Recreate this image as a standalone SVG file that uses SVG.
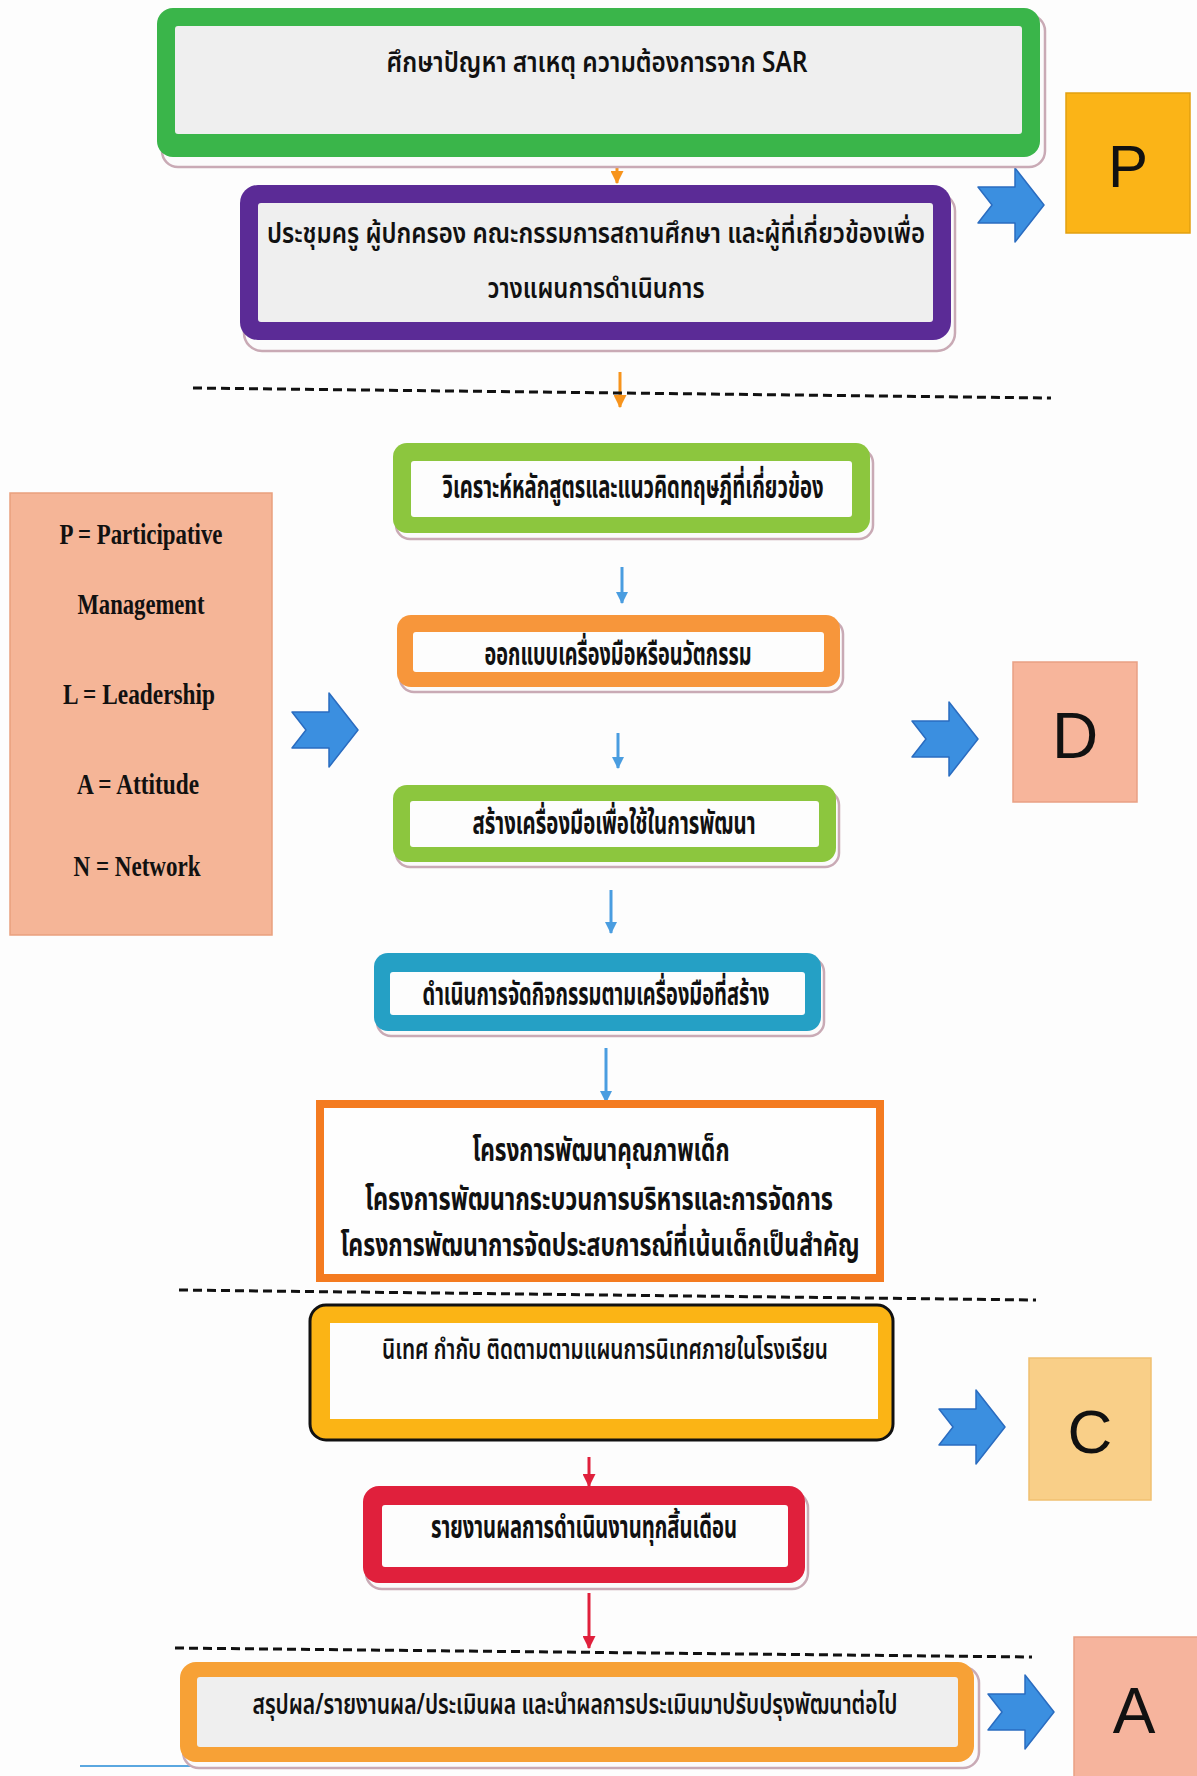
<svg xmlns="http://www.w3.org/2000/svg" width="1197" height="1776" viewBox="0 0 1197 1776">
<defs>
<style>
.th{font-family:"Noto Sans Thai","Leelawadee UI","Tahoma","Noto Sans","Liberation Sans",sans-serif;fill:#111;text-anchor:middle;font-size:28px;font-weight:600}
.thb{font-family:"Noto Sans Thai","Leelawadee UI","Tahoma","Noto Sans","Liberation Sans",sans-serif;fill:#111;text-anchor:middle;font-size:31px;font-weight:bold}
.tm{font-family:"Liberation Serif","Times New Roman",serif;font-weight:bold;font-size:30px;fill:#111;text-anchor:middle}
.big{font-family:"Liberation Sans",Arial,sans-serif;fill:#111;text-anchor:middle}
.shadow{fill:#fbfbfb;stroke:#c9aab5;stroke-width:2.5}
.inner{fill:#efefef}
.innerw{fill:#fdfdfd}
.chev{fill:#3b8fe0;stroke:#2a6cc0;stroke-width:1.5;stroke-linejoin:round}
.dash{stroke:#111;stroke-width:3;stroke-dasharray:9 5;fill:none}
.ab{stroke:#4a9de0;stroke-width:3;fill:none}
.ao{stroke:#f7941d;stroke-width:3;fill:none}
.ar{stroke:#e0203c;stroke-width:3;fill:none}
</style>
<path id="chevron" d="M0,19 L37,19 L37,0 L66,37 L37,74 L37,55 L0,55 L14,37 Z"/>
<marker id="hb" viewBox="0 0 12 12" refX="11" refY="6" markerWidth="12" markerHeight="12" markerUnits="userSpaceOnUse" orient="auto"><path d="M0,0 L12,6 L0,12 z" fill="#4a9de0"/></marker>
<marker id="ho" viewBox="0 0 12 12" refX="11" refY="6" markerWidth="13" markerHeight="13" markerUnits="userSpaceOnUse" orient="auto"><path d="M0,0 L12,6 L0,12 z" fill="#f7941d"/></marker>
<marker id="hr" viewBox="0 0 12 12" refX="11" refY="6" markerWidth="13" markerHeight="13" markerUnits="userSpaceOnUse" orient="auto"><path d="M0,0 L12,6 L0,12 z" fill="#e0203c"/></marker>
</defs>
<rect x="0" y="0" width="1197" height="1776" fill="#fdfdfd"/>

<g id="connectors">
<line class="ao" x1="617" y1="158" x2="617" y2="183" marker-end="url(#ho)"/>
<line class="ao" x1="620" y1="372" x2="620" y2="407" marker-end="url(#ho)"/>
<line class="ab" x1="622" y1="567" x2="622" y2="603" marker-end="url(#hb)"/>
<line class="ab" x1="618" y1="733" x2="618" y2="768" marker-end="url(#hb)"/>
<line class="ab" x1="611" y1="890" x2="611" y2="933" marker-end="url(#hb)"/>
<line class="ab" x1="606" y1="1048" x2="606" y2="1102" marker-end="url(#hb)"/>
<line class="ar" x1="589" y1="1457" x2="589" y2="1486" marker-end="url(#hr)"/>
<line class="ar" x1="589" y1="1593" x2="589" y2="1648" marker-end="url(#hr)"/>
<use href="#chevron" class="chev" x="978" y="168"/>
<use href="#chevron" class="chev" x="292" y="693"/>
<use href="#chevron" class="chev" x="912" y="702"/>
<use href="#chevron" class="chev" x="939" y="1390"/>
<use href="#chevron" class="chev" x="988" y="1675"/>
</g>

<g id="dividers">
<line class="dash" x1="193" y1="388" x2="1051" y2="398"/>
<line class="dash" x1="179" y1="1290" x2="1036" y2="1300"/>
<line class="dash" x1="175" y1="1648" x2="1032" y2="1657"/>
<line x1="80" y1="1766" x2="340" y2="1766" stroke="#5aa7e0" stroke-width="2"/>
</g>

<g id="n1">
<rect class="shadow" x="162" y="15" width="883" height="152" rx="16"/>
<rect x="157" y="8" width="883" height="149" rx="16" fill="#3ab54a"/>
<rect class="inner" x="175" y="26" width="847" height="108" rx="3"/>
<text class="th" x="597" y="72" textLength="421" lengthAdjust="spacingAndGlyphs">ศึกษาปัญหา สาเหตุ ความต้องการจาก SAR</text>
</g>

<g id="n2">
<rect class="shadow" x="244" y="193" width="711" height="158" rx="18"/>
<rect x="240" y="185" width="711" height="155" rx="18" fill="#5b2b96"/>
<rect class="inner" x="258" y="203" width="675" height="119" rx="3"/>
<text class="th" x="596" y="243" textLength="658" lengthAdjust="spacingAndGlyphs">ประชุมครู  ผู้ปกครอง คณะกรรมการสถานศึกษา และผู้ที่เกี่ยวข้องเพื่อ</text>
<text class="th" x="596" y="298" textLength="217" lengthAdjust="spacingAndGlyphs">วางแผนการดำเนินการ</text>
</g>

<g id="n3">
<rect class="shadow" x="396" y="449" width="477" height="90" rx="14"/>
<rect x="393" y="443" width="477" height="90" rx="14" fill="#8cc63e"/>
<rect class="innerw" x="411" y="461" width="441" height="56" rx="3"/>
<text class="thb" x="633" y="498" textLength="381" lengthAdjust="spacingAndGlyphs">วิเคราะห์หลักสูตรและแนวคิดทฤษฎีที่เกี่ยวข้อง</text>
</g>

<g id="n4">
<rect class="shadow" x="400" y="620" width="443" height="72" rx="14"/>
<rect x="397" y="615" width="443" height="72" rx="14" fill="#f7963b"/>
<rect class="innerw" x="413" y="632" width="411" height="40" rx="3"/>
<text class="thb" x="618" y="665" textLength="267" lengthAdjust="spacingAndGlyphs">ออกแบบเครื่องมือหรือนวัตกรรม</text>
</g>

<g id="n5">
<rect class="shadow" x="396" y="791" width="443" height="76" rx="14"/>
<rect x="393" y="785" width="443" height="77" rx="14" fill="#8cc63e"/>
<rect class="innerw" x="410" y="801" width="409" height="46" rx="3"/>
<text class="thb" x="614" y="834" textLength="283" lengthAdjust="spacingAndGlyphs">สร้างเครื่องมือเพื่อใช้ในการพัฒนา</text>
</g>

<g id="n6">
<rect class="shadow" x="377" y="958" width="447" height="78" rx="14"/>
<rect x="374" y="953" width="447" height="78" rx="14" fill="#25a0c5"/>
<rect class="innerw" x="390" y="972" width="415" height="43" rx="3"/>
<text class="thb" x="596" y="1005" textLength="347" lengthAdjust="spacingAndGlyphs">ดำเนินการจัดกิจกรรมตามเครื่องมือที่สร้าง</text>
</g>

<g id="n7">
<rect x="320" y="1104" width="560" height="174" fill="#fefefe" stroke="#f47b20" stroke-width="8"/>
<text class="thb" x="601" y="1161" font-size="34" textLength="257" lengthAdjust="spacingAndGlyphs">โครงการพัฒนาคุณภาพเด็ก</text>
<text class="thb" x="599" y="1210" font-size="34" textLength="468" lengthAdjust="spacingAndGlyphs">โครงการพัฒนากระบวนการบริหารและการจัดการ</text>
<text class="thb" x="600" y="1256" font-size="34" textLength="519" lengthAdjust="spacingAndGlyphs">โครงการพัฒนาการจัดประสบการณ์ที่เน้นเด็กเป็นสำคัญ</text>
</g>

<g id="n8">
<rect x="310" y="1305" width="583" height="135" rx="16" fill="#fbb415" stroke="#111" stroke-width="3"/>
<rect class="innerw" x="330" y="1323" width="548" height="96"/>
<text class="th" x="605" y="1359" textLength="446" lengthAdjust="spacingAndGlyphs">นิเทศ กำกับ ติดตามตามแผนการนิเทศภายในโรงเรียน</text>
</g>

<g id="n9">
<rect class="shadow" x="366" y="1492" width="442" height="97" rx="16"/>
<rect x="363" y="1486" width="442" height="97" rx="16" fill="#e0203c"/>
<rect class="innerw" x="382" y="1505" width="406" height="62" rx="3"/>
<text class="thb" x="584" y="1538" textLength="306" lengthAdjust="spacingAndGlyphs">รายงานผลการดำเนินงานทุกสิ้นเดือน</text>
</g>

<g id="n10">
<rect class="shadow" x="183" y="1667" width="796" height="101" rx="16"/>
<rect x="180" y="1662" width="794" height="100" rx="16" fill="#f7a136"/>
<rect class="inner" x="197" y="1677" width="761" height="70" rx="3"/>
<text class="th" x="575" y="1714" textLength="645" lengthAdjust="spacingAndGlyphs">สรุปผล/รายงานผล/ประเมินผล และนำผลการประเมินมาปรับปรุงพัฒนาต่อไป</text>
</g>

<g id="legend">
<rect x="10" y="493" width="262" height="442" fill="#f5b597" stroke="#e9a07e" stroke-width="1.5"/>
<text class="tm" x="141" y="544" textLength="163" lengthAdjust="spacingAndGlyphs">P = Participative</text>
<text class="tm" x="141" y="614" textLength="127" lengthAdjust="spacingAndGlyphs">Management</text>
<text class="tm" x="139" y="704" textLength="152" lengthAdjust="spacingAndGlyphs">L = Leadership</text>
<text class="tm" x="138" y="794" textLength="122" lengthAdjust="spacingAndGlyphs">A = Attitude</text>
<text class="tm" x="137" y="876" textLength="127" lengthAdjust="spacingAndGlyphs">N = Network</text>
</g>

<g id="phaseP">
<rect x="1066" y="93" width="124" height="140" fill="#fbb417" stroke="#e2a010" stroke-width="1.5"/>
<text class="big" x="1128" y="187" font-size="60">P</text>
</g>
<g id="phaseD">
<rect x="1013" y="662" width="124" height="140" fill="#f7b59b" stroke="#e9a084" stroke-width="1.5"/>
<text class="big" x="1075" y="758" font-size="64">D</text>
</g>
<g id="phaseC">
<rect x="1029" y="1358" width="122" height="142" fill="#f9cf88" stroke="#f0c070" stroke-width="1.5"/>
<text class="big" x="1090" y="1453" font-size="62">C</text>
</g>
<g id="phaseA">
<rect x="1074" y="1637" width="125" height="141" fill="#f6b49d" stroke="#e9a084" stroke-width="1.5"/>
<text class="big" x="1134" y="1733" font-size="64">A</text>
</g>
</svg>
